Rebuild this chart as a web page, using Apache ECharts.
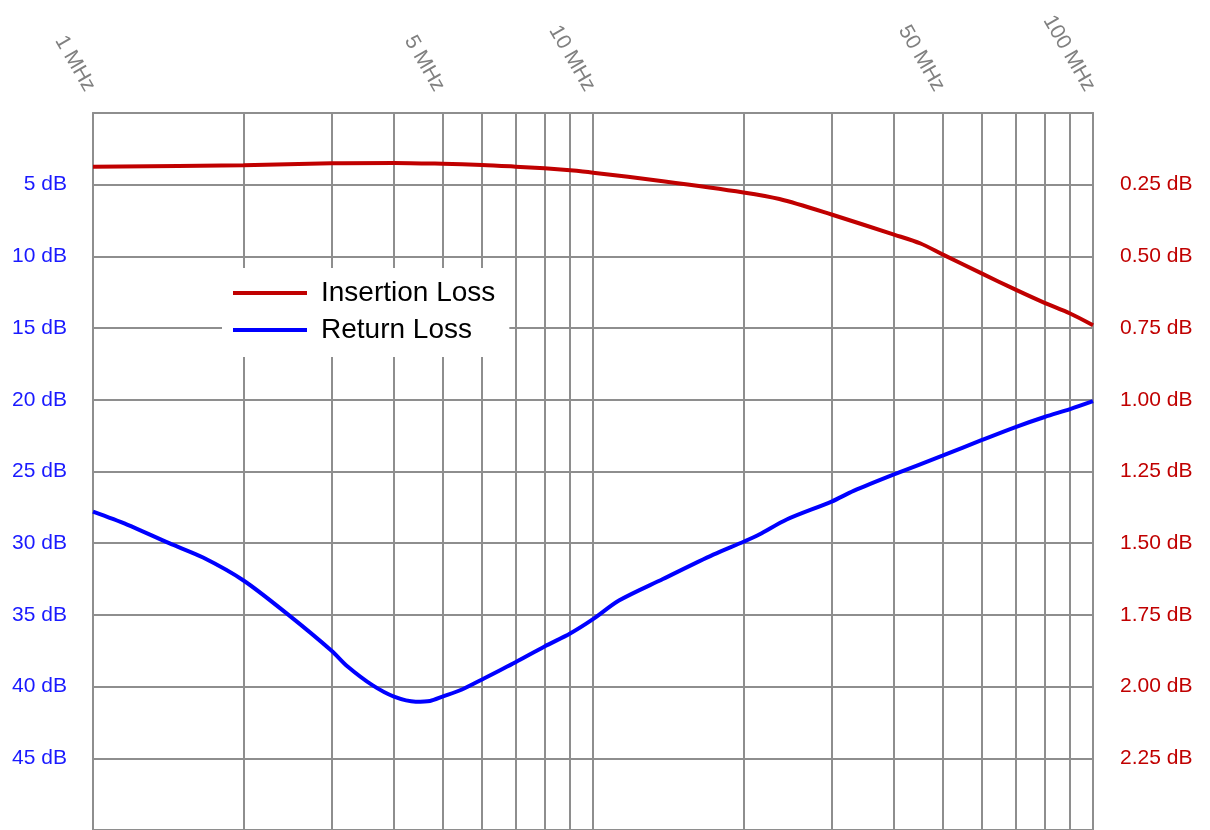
<!DOCTYPE html>
<html>
<head>
<meta charset="utf-8">
<script src="https://cdn.jsdelivr.net/npm/echarts@6/dist/echarts.min.js"></script>
<style>
html,body{margin:0;padding:0;background:#fff;}
#chart{width:1210px;height:830px;}
</style>
</head>
<body>
<div id="chart"></div>
<script>
// Frequencies (MHz) and values
const freqIL = [1, 2, 3, 4, 5, 6, 7, 8, 9, 10, 13.8, 20, 23.6, 30, 40, 45.2, 50, 60, 70, 80, 90, 100];
const insertionLoss = [0.187, 0.182, 0.175, 0.174, 0.177, 0.181, 0.187, 0.193, 0.200, 0.208, 0.238, 0.277, 0.300, 0.354, 0.424, 0.455, 0.493, 0.560, 0.616, 0.662, 0.699, 0.740];

const freqRL = [1, 1.17, 1.42, 1.66, 2, 2.46, 3, 3.23, 3.62, 4, 4.42, 4.72, 5, 5.47, 6, 7, 8, 9, 10, 11.27, 13.8, 17.4, 20, 21.5, 24.4, 30, 33.2, 40, 50, 60, 70, 80, 90, 100];
const returnLoss = [27.8, 28.7, 30.0, 31.0, 32.6, 35.0, 37.5, 38.6, 39.9, 40.7, 41.05, 41.0, 40.7, 40.2, 39.5, 38.3, 37.2, 36.3, 35.3, 34.0, 32.5, 30.8, 29.9, 29.4, 28.35, 27.1, 26.35, 25.2, 23.9, 22.8, 21.9, 21.2, 20.65, 20.1];

const xGridFreqs = [1, 2, 3, 4, 5, 6, 7, 8, 9, 10, 20, 30, 40, 50, 60, 70, 80, 90, 100];
const xLabelFreqs = [1, 5, 10, 50, 100];

const gridColor = '#8e8e8e';
const FONT = 'Liberation Sans';

const chart = echarts.init(document.getElementById('chart'), null, {renderer: 'canvas'});

const ilData = freqIL.map((f, i) => [f, insertionLoss[i]]);
const rlData = freqRL.map((f, i) => [f, returnLoss[i]]);

chart.setOption({
  animation: false,
  backgroundColor: '#fff',
  grid: {left: 93, right: 117, top: 113, bottom: -2, containLabel: false},
  legend: {
    orient: 'vertical',
    left: 222, top: 268,
    backgroundColor: '#fff',
    padding: [10, 14, 12, 11],
    itemWidth: 74, itemHeight: 4, itemGap: 7,
    icon: 'rect',
    textStyle: {fontSize: 28, fontFamily: FONT, color: '#000', lineHeight: 30, padding: [0, 0, 0, 9]},
    data: ['Insertion Loss', 'Return Loss']
  },
  xAxis: {
    type: 'log', logBase: 10, min: 1, max: 100, position: 'top',
    axisLine: {show: true, lineStyle: {color: gridColor, width: 2}},
    axisTick: {show: false, customValues: xGridFreqs},
    axisLabel: {
      customValues: xLabelFreqs,
      rotate: -60, margin: 18,
      padding: [19, 6, 0, 0],
      color: '#808080', fontSize: 21, fontFamily: FONT,
      formatter: v => v + ' MHz'
    },
    splitLine: {show: true, lineStyle: {color: gridColor, width: 2}}
  },
  yAxis: [
    {
      type: 'value', inverse: true, min: 0, max: 50, interval: 5, position: 'left',
      axisLine: {show: true, lineStyle: {color: gridColor, width: 2}},
      axisTick: {show: false},
      axisLabel: {
        margin: 26, color: '#1a1aff', fontSize: 21, fontFamily: FONT,
        formatter: v => (v === 0 || v === 50) ? '' : v + ' dB'
      },
      splitLine: {show: true, lineStyle: {color: gridColor, width: 2}}
    },
    {
      type: 'value', inverse: true, min: 0, max: 2.5, interval: 0.25, position: 'right',
      axisLine: {show: true, lineStyle: {color: gridColor, width: 2}},
      axisTick: {show: false},
      axisLabel: {
        margin: 27, color: '#c00000', fontSize: 21, fontFamily: FONT,
        formatter: v => (v === 0 || v === 2.5) ? '' : v.toFixed(2) + ' dB'
      },
      splitLine: {show: false}
    }
  ],
  series: [
    {
      name: 'Insertion Loss', type: 'line', yAxisIndex: 1,
      data: ilData, smooth: 0.3, showSymbol: false, symbol: 'none',
      lineStyle: {color: '#c00000', width: 4}, itemStyle: {color: '#c00000'}
    },
    {
      name: 'Return Loss', type: 'line', yAxisIndex: 0,
      data: rlData, smooth: 0.3, showSymbol: false, symbol: 'none',
      lineStyle: {color: '#0000ff', width: 4}, itemStyle: {color: '#0000ff'}
    }
  ]
});
</script>
</body>
</html>
